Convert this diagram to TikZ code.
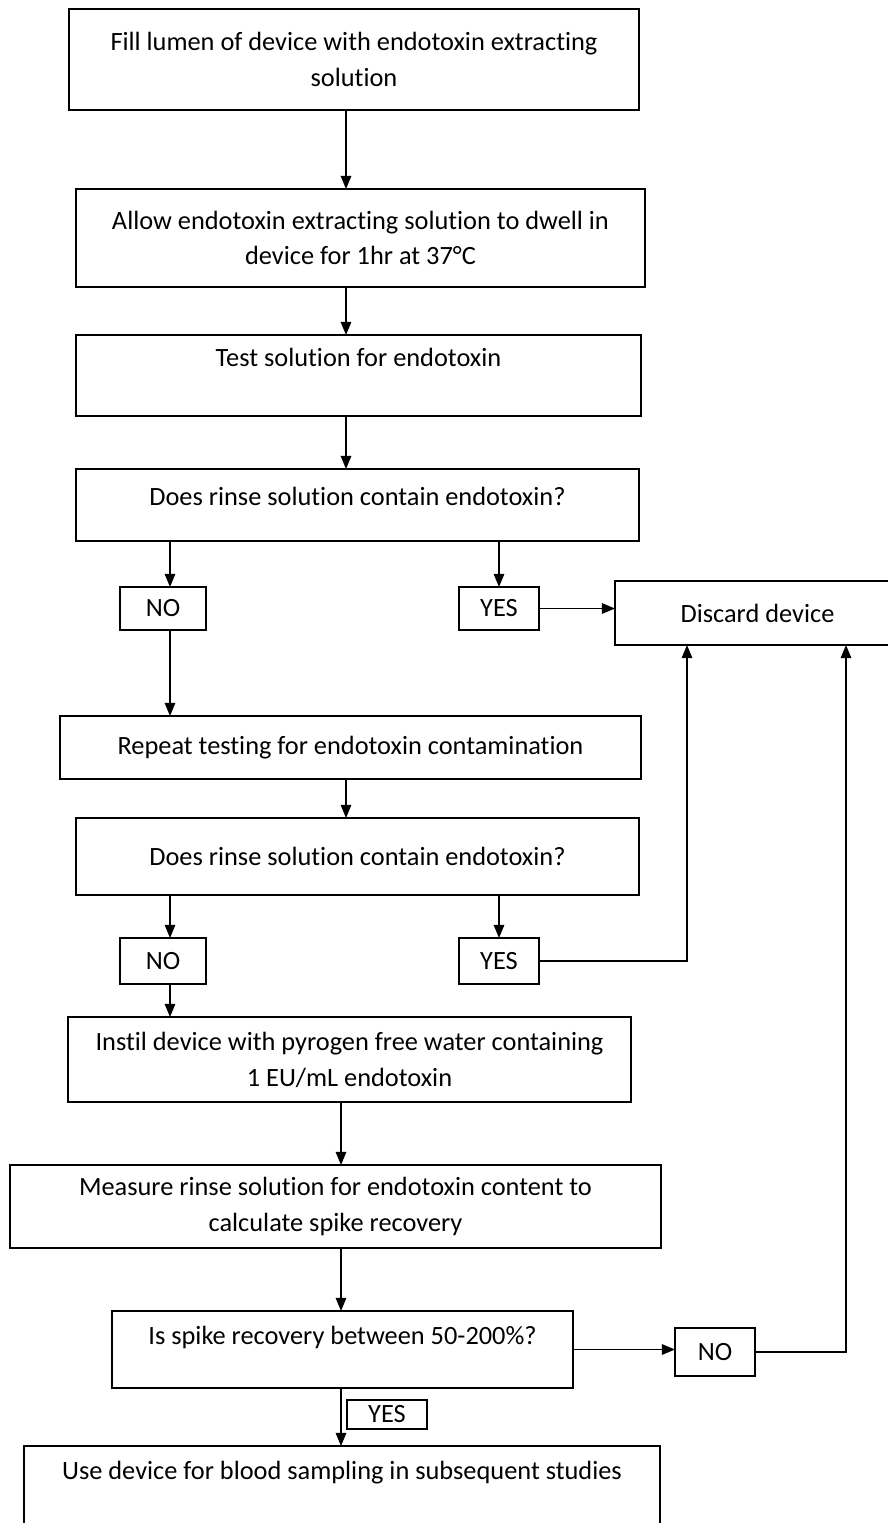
\documentclass[tikz,border=0pt]{standalone}
\usepackage{fontspec}
\setmainfont[Ligatures=NoCommon]{Carlito}
\usepackage{tikz}
\usetikzlibrary{arrows.meta, positioning, calc}
\tikzset{
  stepbox/.style={rectangle, draw=black, line width=1pt, align=center, inner sep=0pt, outer sep=0pt, text centered}, % process boxes
  answer/.style={rectangle, draw=black, line width=1pt, inner sep=0pt, outer sep=0pt, minimum width=1.6cm}, % YES / NO boxes
  line/.style={draw, line width=0.8pt, -{Triangle[length=7.5pt,width=6pt]}}
}

\begin{document}
\begin{tikzpicture}[x=0.02cm, y=-0.02cm, font=\fontsize{15}{20.4}\selectfont]
    \useasboundingbox (0,0) rectangle (888,1523);

    % Axes for the connectors
    \coordinate (axisA) at (346,0);
    \coordinate (axisB) at (341,0);
    \coordinate (axisNo) at (170,0);
    \coordinate (axisYes) at (499,0);
    \coordinate (axisRetA) at (687,0);
    \coordinate (axisRetB) at (846,0);

    % Nodes
    \node [stepbox, minimum width=11.4cm, minimum height=2.02cm] (fillLumen) at (354,59.5) {Fill lumen of device with endotoxin extracting\\ solution};
    \node [stepbox, minimum width=11.38cm, minimum height=1.96cm] (allowDwell) at (360.5,238) {Allow endotoxin extracting solution to dwell in\\ device for 1hr at 37°C};
    \node [stepbox, minimum width=11.3cm, minimum height=1.62cm] (testSolution) at (358.5,375.5) {Test solution for endotoxin\\ ~};
    \node [stepbox, minimum width=11.26cm, minimum height=1.44cm] (doesRinseA) at (357.5,505) {Does rinse solution contain endotoxin?\\[-11pt] ~};
    \node [answer, minimum width=1.72cm, minimum height=0.86cm] (noA) at (163,608.5) {NO};
    \node [answer, minimum height=0.86cm] (yesA) at (499,608.5) {YES};
    \node [stepbox, minimum width=5.7cm, minimum height=1.28cm] (discard) at (757.5,613) {Discard device};
    \node [stepbox, minimum width=11.62cm, minimum height=1.26cm] (repeatTest) at (350.5,747.5) {Repeat testing for endotoxin contamination};
    \node [stepbox, minimum width=11.26cm, minimum height=1.54cm] (doesRinseB) at (357.5,856.5) {Does rinse solution contain endotoxin?};
    \node [answer, minimum width=1.72cm, minimum height=0.92cm] (noB) at (163,961) {NO};
    \node [answer, minimum height=0.92cm] (yesB) at (499,961) {YES};
    \node [stepbox, minimum width=11.26cm, minimum height=1.7cm] (instil) at (349.5,1059.5) {Instil device with pyrogen free water containing\\ 1 EU/mL endotoxin};
    \node [stepbox, minimum width=13.02cm, minimum height=1.66cm] (measure) at (335.5,1206.5) {Measure rinse solution for endotoxin content to\\ calculate spike recovery};
    \node [stepbox, minimum width=9.22cm, minimum height=1.54cm] (spike) at (342.5,1349.5) {Is spike recovery between 50-200\%?\\[-4pt] ~};
    \node [answer, minimum height=0.96cm] (noC) at (715,1352) {NO};
    \node [answer, minimum height=0.58cm] (yesC) at (387,1414.5) {YES};
    \node [stepbox, minimum width=12.72cm, minimum height=2.4cm] (useDevice) at (342,1506) {Use device for blood sampling in subsequent studies\\ ~\\ ~};

    % Edges
    \draw[line] (fillLumen.south -| axisA) -- (allowDwell.north -| axisA);
    \draw[line] (allowDwell.south -| axisA) -- (testSolution.north -| axisA);
    \draw[line] (testSolution.south -| axisA) -- (doesRinseA.north -| axisA);
    \draw[line] (doesRinseA.south -| axisNo) -- (noA.north -| axisNo);
    \draw[line] (doesRinseA.south -| axisYes) -- (yesA.north -| axisYes);
    \draw[line] (yesA.east) -- (discard.west |- yesA.east);
    \draw[line] (noA.south -| axisNo) -- (repeatTest.north -| axisNo);
    \draw[line] (repeatTest.south -| axisA) -- (doesRinseB.north -| axisA);
    \draw[line] (doesRinseB.south -| axisNo) -- (noB.north -| axisNo);
    \draw[line] (doesRinseB.south -| axisYes) -- (yesB.north -| axisYes);
    \draw[line] (yesB.east) -| (discard.south -| axisRetA);
    \draw[line] (noB.south -| axisNo) -- (instil.north -| axisNo);
    \draw[line] (instil.south -| axisB) -- (measure.north -| axisB);
    \draw[line] (measure.south -| axisB) -- (spike.north -| axisB);
    \draw[line] (spike.east) -- (noC.west |- spike.east);
    \draw[line] (noC.east) -| (discard.south -| axisRetB);
    \draw[line] (spike.south -| axisB) -- (useDevice.north -| axisB);

\end{tikzpicture}
\end{document}
